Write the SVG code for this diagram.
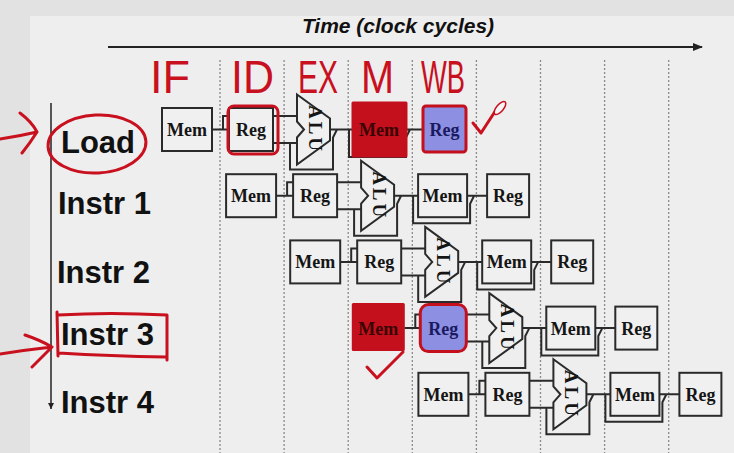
<svg xmlns="http://www.w3.org/2000/svg" width="734" height="453" viewBox="0 0 734 453">
<style>
.box{fill:#f0f0f0;stroke:#2a2a2a;stroke-width:2}
.lbl{font-family:"Liberation Serif","Times New Roman",serif;font-weight:bold;font-size:18px;text-anchor:middle;fill:#151515}
.alu{font-size:19px;letter-spacing:3px}
.wire{fill:none;stroke:#2a2a2a;stroke-width:2}
.grid{stroke:#8a8a8a;stroke-width:1.3;stroke-dasharray:2 2}
.row{font-family:"Liberation Sans",Arial,sans-serif;font-weight:bold;font-size:31px;fill:#111}
.hand{font-family:"Liberation Sans",Arial,sans-serif;font-size:46px;fill:#c8101e}
.red{fill:none;stroke:#c8101e;stroke-width:3;stroke-linecap:round;stroke-linejoin:round}
.redfill{fill:#c40f1d;stroke:#c40f1d;stroke-width:3;stroke-linejoin:round}
.bluefill{fill:#8c8fe2;stroke:#c40f1d;stroke-width:3}
</style>
<defs>
<marker id="ah" markerWidth="10" markerHeight="8" refX="9" refY="4" orient="auto" markerUnits="userSpaceOnUse">
<path d="M0,0 L10,4 L0,8 Z" fill="#222"/>
</marker>
<marker id="ahs" markerWidth="6" markerHeight="8" refX="6" refY="3" orient="auto" markerUnits="userSpaceOnUse">
<path d="M0,0 L6,3 L0,6 Z" fill="#222"/>
</marker>
</defs>
<rect x="0" y="0" width="734" height="453" fill="#e2e2e2"/>
<rect x="30" y="16" width="704" height="437" fill="#eeeeee"/>

<g id="title">
<text x="398" y="33" font-family="Liberation Sans,Arial,sans-serif" font-weight="bold" font-style="italic" font-size="21" text-anchor="middle" fill="#111">Time (clock cycles)</text>
</g>
<g id="axes">
<line x1="108" y1="47" x2="702" y2="47" stroke="#222" stroke-width="2" marker-end="url(#ah)"/>
<line x1="51" y1="103" x2="51" y2="409" stroke="#222" stroke-width="1.5" marker-end="url(#ahs)"/>
</g>
<g id="grid">
<line class="grid" x1="220" y1="60" x2="220" y2="453"/>
<line class="grid" x1="284.1" y1="60" x2="284.1" y2="453"/>
<line class="grid" x1="348.2" y1="60" x2="348.2" y2="453"/>
<line class="grid" x1="412.3" y1="60" x2="412.3" y2="453"/>
<line class="grid" x1="476.4" y1="60" x2="476.4" y2="453"/>
<line class="grid" x1="540.5" y1="60" x2="540.5" y2="453"/>
<line class="grid" x1="604.6" y1="60" x2="604.6" y2="453"/>
<line class="grid" x1="668.7" y1="60" x2="668.7" y2="453"/>
</g>

<g id="labels">
<text class="row" x="61" y="153">Load</text>
<text class="row" x="58" y="214">Instr 1</text>
<text class="row" x="57" y="283">Instr 2</text>
<text class="row" x="61" y="345">Instr 3</text>
<text class="row" x="61" y="413">Instr 4</text>
</g>

<g id="connectors">
<g transform="translate(156,108)"><path class="wire" d="M56,21.5H73M67,21.5V8H73M117,8H141M117,35H141M134,35V61.5H177V29.5L181,21.5M174,21.5H198M193,21.5V49H250V29.5L254,21.5M247,21.5H267"/></g>
<g transform="translate(220.1,174.2)"><path class="wire" d="M56,21.5H73M67,21.5V8H73M117,8H141M117,35H141M134,35V61.5H177V29.5L181,21.5M174,21.5H198M193,21.5V49H250V29.5L254,21.5M247,21.5H267"/></g>
<g transform="translate(284.2,240.4)"><path class="wire" d="M56,21.5H73M67,21.5V8H73M117,8H141M117,35H141M134,35V61.5H177V29.5L181,21.5M174,21.5H198M193,21.5V49H250V29.5L254,21.5M247,21.5H267"/></g>
<g transform="translate(348.3,306.6)"><path class="wire" d="M56,21.5H73M67,21.5V8H73M117,8H141M117,35H141M134,35V61.5H177V29.5L181,21.5M174,21.5H198M193,21.5V49H250V29.5L254,21.5M247,21.5H267"/></g>
<g transform="translate(412.4,372.8)"><path class="wire" d="M56,21.5H73M67,21.5V8H73M117,8H141M117,35H141M134,35V61.5H177V29.5L181,21.5M174,21.5H198M193,21.5V49H250V29.5L254,21.5M247,21.5H267"/></g>
</g>

<g transform="translate(156,108)">
<g id="load-if"><rect class="box" x="6" y="0" width="50" height="43"/><text class="lbl" x="31" y="28">Mem</text></g>
<g id="load-id"><rect class="box" x="73" y="0" width="44" height="43"/><text class="lbl" x="95" y="28">Reg</text><rect class="red" x="72" y="-2" width="50" height="48" rx="6"/></g>
<g id="load-ex"><polygon class="box" points="141,-13.5 174,10.5 174,32.5 141,56.5 141,29.5 148,21.5 141,13.5"/><text class="lbl alu" transform="translate(159,21.5) rotate(90)" y="6">ALU</text></g>
<g id="load-mem"><rect class="redfill" x="197" y="-5" width="53" height="53"/><text class="lbl" x="223" y="28" style="fill:#3a0505">Mem</text></g>
<g id="load-wb"><rect class="bluefill" x="267" y="-2" width="43" height="46" rx="3"/><text class="lbl" x="288.5" y="28" style="fill:#1a1a60">Reg</text></g>
</g>

<g transform="translate(220.1,174.2)">
<g id="i1-if"><rect class="box" x="6" y="0" width="50" height="43"/><text class="lbl" x="31" y="28">Mem</text></g>
<g id="i1-id"><rect class="box" x="73" y="0" width="44" height="43"/><text class="lbl" x="95" y="28">Reg</text></g>
<g id="i1-ex"><polygon class="box" points="141,-13.5 174,10.5 174,32.5 141,56.5 141,29.5 148,21.5 141,13.5"/><text class="lbl alu" transform="translate(159,21.5) rotate(90)" y="6">ALU</text></g>
<g id="i1-mem"><rect class="box" x="198" y="0" width="49" height="43"/><text class="lbl" x="222.5" y="28">Mem</text></g>
<g id="i1-wb"><rect class="box" x="267" y="0" width="42" height="43"/><text class="lbl" x="288" y="28">Reg</text></g>
</g>

<g transform="translate(284.2,240.4)">
<g id="i2-if"><rect class="box" x="6" y="0" width="50" height="43"/><text class="lbl" x="31" y="28">Mem</text></g>
<g id="i2-id"><rect class="box" x="73" y="0" width="44" height="43"/><text class="lbl" x="95" y="28">Reg</text></g>
<g id="i2-ex"><polygon class="box" points="141,-13.5 174,10.5 174,32.5 141,56.5 141,29.5 148,21.5 141,13.5"/><text class="lbl alu" transform="translate(159,21.5) rotate(90)" y="6">ALU</text></g>
<g id="i2-mem"><rect class="box" x="198" y="0" width="49" height="43"/><text class="lbl" x="222.5" y="28">Mem</text></g>
<g id="i2-wb"><rect class="box" x="267" y="0" width="42" height="43"/><text class="lbl" x="288" y="28">Reg</text></g>
</g>

<g transform="translate(348.3,306.6)">
<g id="i3-if"><rect class="redfill" x="5" y="-2" width="50" height="45"/><text class="lbl" x="30" y="28" style="fill:#3a0505">Mem</text></g>
<g id="i3-id"><rect class="bluefill" x="72" y="-2" width="46" height="47" rx="8"/><text class="lbl" x="95" y="28" style="fill:#1a1a60">Reg</text></g>
<g id="i3-ex"><polygon class="box" points="141,-13.5 174,10.5 174,32.5 141,56.5 141,29.5 148,21.5 141,13.5"/><text class="lbl alu" transform="translate(159,21.5) rotate(90)" y="6">ALU</text></g>
<g id="i3-mem"><rect class="box" x="198" y="0" width="49" height="43"/><text class="lbl" x="222.5" y="28">Mem</text></g>
<g id="i3-wb"><rect class="box" x="267" y="0" width="42" height="43"/><text class="lbl" x="288" y="28">Reg</text></g>
</g>

<g transform="translate(412.4,372.8)">
<g id="i4-if"><rect class="box" x="6" y="0" width="50" height="43"/><text class="lbl" x="31" y="28">Mem</text></g>
<g id="i4-id"><rect class="box" x="73" y="0" width="44" height="43"/><text class="lbl" x="95" y="28">Reg</text></g>
<g id="i4-ex"><polygon class="box" points="141,-13.5 174,10.5 174,32.5 141,56.5 141,29.5 148,21.5 141,13.5"/><text class="lbl alu" transform="translate(159,21.5) rotate(90)" y="6">ALU</text></g>
<g id="i4-mem"><rect class="box" x="198" y="0" width="49" height="43"/><text class="lbl" x="222.5" y="28">Mem</text></g>
<g id="i4-wb"><rect class="box" x="267" y="0" width="42" height="43"/><text class="lbl" x="288" y="28">Reg</text></g>
</g>

<g id="annotations">
<text class="hand" x="150" y="93" textLength="40" lengthAdjust="spacingAndGlyphs">IF</text>
<text class="hand" x="231" y="93" textLength="43" lengthAdjust="spacingAndGlyphs">ID</text>
<text class="hand" x="298" y="93" textLength="40" lengthAdjust="spacingAndGlyphs">EX</text>
<text class="hand" x="361" y="93" textLength="33" lengthAdjust="spacingAndGlyphs">M</text>
<text class="hand" x="421" y="93" textLength="44" lengthAdjust="spacingAndGlyphs">WB</text>
<ellipse class="red" cx="97" cy="144" rx="49" ry="29" transform="rotate(-3 97 144)"/>
<path class="red" d="M57,312 L58,356 M58,315 Q110,312 167,315 L167,360 M59,353 Q110,356 166,357"/>
<path class="red" d="M0,139 Q20,136 37,132 M20,113 Q32,122 37,132 Q30,143 22,153"/>
<path class="red" d="M0,354 Q25,350 52,347 M25,335 Q40,340 52,347 Q42,357 32,367"/>
<path class="red" stroke-width="4" d="M473,123 L481,133 L496,110"/>
<ellipse cx="500" cy="108" rx="8" ry="3.5" transform="rotate(-50 500 108)" fill="#f5f5f5" stroke="#c8101e" stroke-width="1.5"/>
<path class="red" stroke-width="5" d="M367,367 L377,378 L403,352"/>
</g>
</svg>
